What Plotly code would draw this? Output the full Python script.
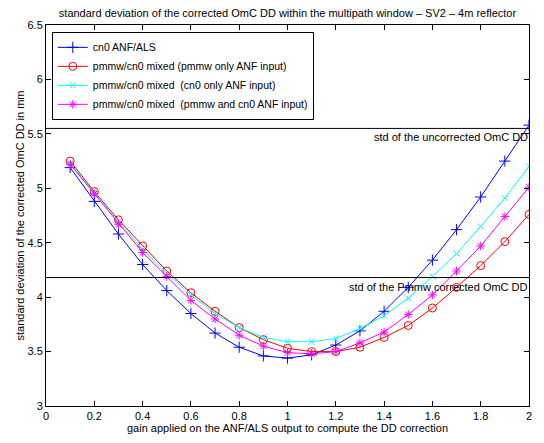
import plotly.graph_objects as go

gain = [0.1, 0.2, 0.3, 0.4, 0.5, 0.6, 0.7, 0.8, 0.9, 1.0, 1.1, 1.2, 1.3, 1.4, 1.5, 1.6, 1.7, 1.8, 1.9, 2.0]

cn0_anf = [5.19, 4.88, 4.58, 4.30, 4.06, 3.85, 3.67, 3.54, 3.46, 3.44, 3.47, 3.56, 3.69, 3.87, 4.09, 4.34, 4.62, 4.92, 5.25, 5.58]
mixed_pmmw = [5.25, 4.97, 4.71, 4.47, 4.24, 4.04, 3.87, 3.72, 3.61, 3.53, 3.50, 3.50, 3.54, 3.63, 3.74, 3.90, 4.09, 4.29, 4.51, 4.76]
mixed_cn0 = [5.23, 4.96, 4.69, 4.44, 4.22, 4.02, 3.85, 3.72, 3.63, 3.59, 3.59, 3.62, 3.71, 3.83, 3.99, 4.19, 4.40, 4.65, 4.91, 5.20]
mixed_both = [5.22, 4.95, 4.67, 4.41, 4.19, 3.97, 3.80, 3.65, 3.55, 3.49, 3.48, 3.50, 3.58, 3.68, 3.84, 4.02, 4.24, 4.47, 4.74, 5.01]

std_uncorrected = 5.55
std_pmmw_corrected = 4.18

names = ["cn0 ANF/ALS",
         "pmmw/cn0 mixed (pmmw only ANF input)",
         "pmmw/cn0 mixed  (cn0 only ANF input)",
         "pmmw/cn0 mixed  (pmmw and cn0 ANF input)"]

series = [cn0_anf, mixed_pmmw, mixed_cn0, mixed_both]
colors = ["#0000ff", "#ff0000", "#00ffff", "#ff00ff"]
symbols = ["cross-thin", "circle-open", "x-thin", "asterisk"]
sizes = [8, 8, 6, 7]

FONT = "Liberation Sans, Arial, Helvetica, sans-serif"

fig = go.Figure()
for name, ys, c, s, sz in zip(names, series, colors, symbols, sizes):
    fig.add_trace(go.Scatter(
        x=gain, y=ys, name=name, mode="lines+markers",
        line=dict(color=c, width=1),
        marker=dict(symbol=s, size=sz, color=c, line=dict(color=c, width=1)),
    ))

for val, txt in [(std_uncorrected, "std of the uncorrected OmC DD"),
                 (std_pmmw_corrected, "std of the Pmmw corrected OmC DD")]:
    fig.add_shape(type="line", xref="paper", yref="y", x0=0, x1=1, y0=val, y1=val,
                  line=dict(color="black", width=1))
    fig.add_annotation(xref="x", yref="y", x=2, y=val, text=txt, showarrow=False,
                       xanchor="right", yanchor="top", yshift=-1, xshift=1,
                       font=dict(family=FONT, size=11, color="black"))

axis_common = dict(showgrid=False, zeroline=False, showline=True, linecolor="black",
                   linewidth=1, mirror="ticks", ticks="inside", ticklen=5,
                   tickcolor="black", tickfont=dict(family=FONT, size=11, color="black"))

fig.update_layout(
    width=528, height=427,
    margin=dict(l=38, r=4, t=17, b=26),
    paper_bgcolor="white", plot_bgcolor="white",
    font=dict(family=FONT, size=11, color="black"),
    title=dict(text="standard deviation of the corrected OmC DD within the multipath window \u2013 SV2 \u2013 4m reflector",
               x=0.5, xref="paper", xanchor="center", y=0.988, yanchor="middle",
               font=dict(family=FONT, size=11, color="black")),
    xaxis=dict(range=[0, 2], tickvals=[0, 0.2, 0.4, 0.6, 0.8, 1, 1.2, 1.4, 1.6, 1.8, 2],
               ticktext=["0", "0.2", "0.4", "0.6", "0.8", "1", "1.2", "1.4", "1.6", "1.8", "2"],
               title=dict(text="gain applied on the ANF/ALS output to compute the DD correction",
                          standoff=1, font=dict(family=FONT, size=11)),
               **axis_common),
    yaxis=dict(range=[3, 6.5], tickvals=[3, 3.5, 4, 4.5, 5, 5.5, 6, 6.5],
               ticktext=["3", "3.5", "4", "4.5", "5", "5.5", "6", "6.5"],
               title=dict(text="standard deviation of the corrected OmC DD in mm",
                          standoff=0, font=dict(family=FONT, size=11)),
               **axis_common),
    legend=dict(x=0.012, y=0.982, xanchor="left", yanchor="top",
                bgcolor="white", bordercolor="black", borderwidth=1,
                font=dict(family=FONT, size=10.5, color="black"),
                tracegroupgap=0, itemwidth=30),
    showlegend=True,
)

fig.write_html("out.html")
